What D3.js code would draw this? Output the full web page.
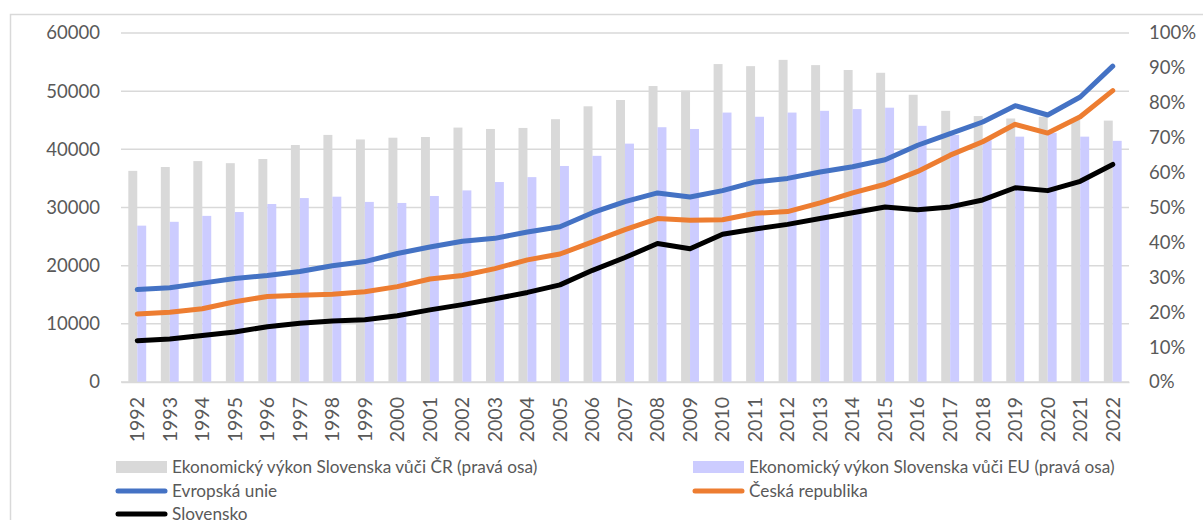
<!DOCTYPE html>
<html>
<head>
<meta charset="utf-8">
<script src="https://cdn.jsdelivr.net/npm/d3@7"></script>
<style>
    body { margin: 0; background: #fff; }
    svg text { font-family: Lato, "Open Sans", sans-serif; fill: #595959; }
</style>
</head>
<body>
<div id="chart"></div>
<script>
    // Years on the x axis
    var years = ["1992","1993","1994","1995","1996","1997","1998","1999","2000","2001","2002",
        "2003","2004","2005","2006","2007","2008","2009","2010","2011","2012",
        "2013","2014","2015","2016","2017","2018","2019","2020","2021","2022"];

    // Bars (right axis, share)
    var vuciCR = [0.605, 0.616, 0.633, 0.627, 0.639, 0.679, 0.708, 0.695, 0.700, 0.702, 0.729,
        0.725, 0.728, 0.753, 0.790, 0.808, 0.848, 0.835, 0.911, 0.905, 0.923,
        0.908, 0.894, 0.886, 0.823, 0.777, 0.762, 0.755, 0.760, 0.751, 0.749];
    var vuciEU = [0.448, 0.459, 0.476, 0.487, 0.510, 0.527, 0.531, 0.516, 0.513, 0.533, 0.549,
        0.573, 0.587, 0.619, 0.648, 0.683, 0.730, 0.725, 0.772, 0.760, 0.772,
        0.777, 0.782, 0.786, 0.734, 0.708, 0.693, 0.703, 0.714, 0.703, 0.691];

    // Lines (left axis)
    var evropskaUnie = [15900, 16200, 17000, 17800, 18300, 19000, 20000, 20700, 22100, 23200, 24200,
        24700, 25800, 26700, 29100, 31000, 32500, 31800, 32900, 34400, 35000,
        36100, 37000, 38200, 40700, 42700, 44700, 47500, 45900, 49000, 54300];
    var ceskaRepublika = [11700, 12000, 12600, 13800, 14700, 14900, 15100, 15500, 16400, 17700, 18300,
        19500, 21000, 22000, 24100, 26200, 28100, 27800, 27900, 29000, 29300,
        30800, 32500, 34000, 36200, 39000, 41300, 44300, 42800, 45600, 50100];
    var slovensko = [7100, 7400, 8000, 8600, 9500, 10100, 10500, 10700, 11400, 12400, 13300,
        14300, 15400, 16700, 19200, 21400, 23800, 22900, 25400, 26300, 27100,
        28100, 29100, 30100, 29600, 30100, 31300, 33400, 32900, 34500, 37400];

    var leftTicks = [0, 10000, 20000, 30000, 40000, 50000, 60000];
    var rightTicks = [0, 0.1, 0.2, 0.3, 0.4, 0.5, 0.6, 0.7, 0.8, 0.9, 1.0];

    var width = 1203, height = 520;
    var plot = { left: 121, right: 1129, top: 33, bottom: 382 };

    var svg = d3.select("#chart").append("svg")
        .attr("width", width)
        .attr("height", height);

    // chart frame (only left and top edges are visible)
    svg.append("rect")
        .attr("x", 10.5).attr("y", 14.5)
        .attr("width", 1300).attr("height", 600)
        .attr("fill", "none")
        .attr("stroke", "#d9d9d9")
        .attr("stroke-width", 1.5);

    // scales
    var x = d3.scaleBand().domain(years).range([plot.left, plot.right]).padding(0);
    var x1 = d3.scaleBand().domain(["cr", "eu"])
        .range([x.bandwidth() * 0.225, x.bandwidth() * 0.775]).padding(0);
    var yLeft = d3.scaleLinear().domain([0, 60000]).range([plot.bottom, plot.top]);
    var yRight = d3.scaleLinear().domain([0, 1]).range([plot.bottom, plot.top]);

    // gridlines
    svg.append("g")
        .selectAll("line")
        .data(leftTicks)
        .join("line")
        .attr("x1", plot.left).attr("x2", plot.right)
        .attr("y1", d => yLeft(d)).attr("y2", d => yLeft(d))
        .attr("stroke", "#d9d9d9")
        .attr("stroke-width", 1.5);

    // bars
    var barGroups = svg.append("g")
        .selectAll("g")
        .data(years)
        .join("g")
        .attr("transform", d => `translate(${x(d)},0)`);

    barGroups.append("rect")
        .attr("x", x1("cr"))
        .attr("width", x1.bandwidth())
        .attr("y", (d, i) => yRight(vuciCR[i]))
        .attr("height", (d, i) => plot.bottom - yRight(vuciCR[i]))
        .attr("fill", "#d9d9d9");

    barGroups.append("rect")
        .attr("x", x1("eu"))
        .attr("width", x1.bandwidth())
        .attr("y", (d, i) => yRight(vuciEU[i]))
        .attr("height", (d, i) => plot.bottom - yRight(vuciEU[i]))
        .attr("fill", "#ccccff");

    // lines
    var line = d3.line()
        .x((d, i) => x(years[i]) + x.bandwidth() / 2)
        .y(d => yLeft(d));

    [[evropskaUnie, "#4472c4"], [ceskaRepublika, "#ed7d31"], [slovensko, "#000000"]].forEach(function (s) {
        svg.append("path")
            .datum(s[0])
            .attr("fill", "none")
            .attr("stroke", s[1])
            .attr("stroke-width", 5)
            .attr("stroke-linejoin", "round")
            .attr("stroke-linecap", "round")
            .attr("d", line);
    });

    // left axis
    var leftAxis = svg.append("g")
        .attr("transform", `translate(${plot.left},0)`)
        .call(d3.axisLeft(yLeft).tickValues(leftTicks).tickSize(0).tickPadding(21).tickFormat(d3.format("d")));
    leftAxis.select(".domain").remove();
    leftAxis.selectAll("text").style("font-size", "18.5px").attr("fill", "#595959");

    // right axis
    var rightAxis = svg.append("g")
        .attr("transform", `translate(${plot.right},0)`)
        .call(d3.axisRight(yRight).tickValues(rightTicks).tickSize(0).tickPadding(20).tickFormat(d3.format(".0%")));
    rightAxis.select(".domain").remove();
    rightAxis.selectAll("text").style("font-size", "18.5px").attr("fill", "#595959");

    // bottom axis with rotated year labels
    var bottomAxis = svg.append("g")
        .attr("transform", `translate(0,${plot.bottom})`)
        .call(d3.axisBottom(x).tickSize(0).tickPadding(0));
    bottomAxis.select(".domain").attr("stroke", "#d9d9d9").attr("stroke-width", 1.5);
    bottomAxis.selectAll("text")
        .attr("transform", "rotate(-90)")
        .attr("x", -15)
        .attr("y", 0)
        .attr("dy", "0.35em")
        .style("text-anchor", "end")
        .style("font-size", "19.5px")
        .attr("fill", "#595959");

    // legend
    var legendItems = [
        { label: "Ekonomický výkon Slovenska vůči ČR (pravá osa)", type: "bar", color: "#d9d9d9", x: 116, y: 467 },
        { label: "Ekonomický výkon Slovenska vůči EU (pravá osa)", type: "bar", color: "#ccccff", x: 693, y: 467 },
        { label: "Evropská unie", type: "line", color: "#4472c4", x: 116, y: 491 },
        { label: "Česká republika", type: "line", color: "#ed7d31", x: 693, y: 491 },
        { label: "Slovensko", type: "line", color: "#000000", x: 116, y: 514 }
    ];

    var legend = svg.append("g")
        .selectAll("g")
        .data(legendItems)
        .join("g")
        .attr("transform", d => `translate(${d.x},${d.y})`);

    legend.filter(d => d.type == "bar").append("rect")
        .attr("x", 0).attr("y", -6)
        .attr("width", 51).attr("height", 12)
        .attr("fill", d => d.color);

    legend.filter(d => d.type == "line").append("line")
        .attr("x1", 2).attr("x2", 49)
        .attr("y1", 0).attr("y2", 0)
        .attr("stroke", d => d.color)
        .attr("stroke-width", 5)
        .attr("stroke-linecap", "round");

    legend.append("text")
        .attr("x", 56)
        .attr("y", 0)
        .attr("dy", "0.35em")
        .style("font-size", "17.2px")
        .text(d => d.label);
</script>
</body>
</html>
